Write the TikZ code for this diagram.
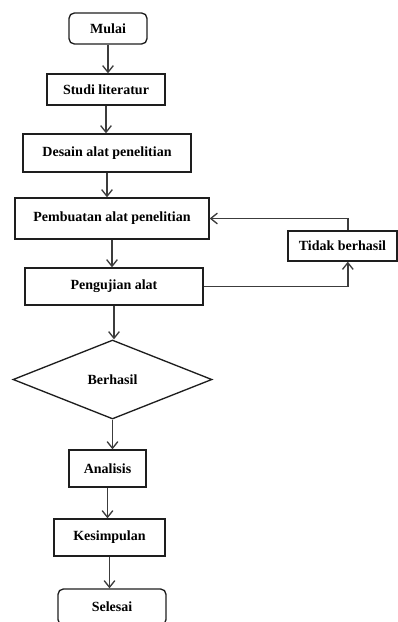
\documentclass[tikz,border=0pt]{standalone}
\usepackage{fontspec}
\setmainfont{Liberation Serif}
\usepackage{tikz}
\usetikzlibrary{arrows.meta}
\usetikzlibrary{shapes.geometric}
\usepackage{xcolor}
\definecolor{ColLine}{RGB}{60,60,60}
\definecolor{ColBox}{RGB}{30,30,30}
\tikzstyle{StepBox}=[rectangle,draw=ColBox,line width=1pt,inner sep=0pt,
font=\fontsize{10.5}{12}\selectfont\bfseries]
\tikzstyle{EndBox}=[StepBox,rounded corners=4pt]
\tikzstyle{Decision}=[diamond,draw=ColBox,line width=1pt,inner sep=0pt,
font=\fontsize{10.5}{12}\selectfont\bfseries]
\tikzstyle{Flow}=[ColLine,line width=1pt,-{Straight Barb[length=5pt,width=8pt]}]
\begin{document}
\begin{tikzpicture}[x=0.75pt,y=-0.75pt]
        \useasboundingbox(0,0)rectangle(398,622);
        \node[EndBox,minimum width=58.5pt,minimum height=23.25pt](mulai)at(108,28.5){Mulai};
        \node[StepBox,minimum width=88.5pt,minimum height=23.25pt](studi)at(106,89.5){Studi literatur};
        \node[StepBox,minimum width=126pt,minimum height=28.5pt](desain)at(107,153){Desain alat penelitian};
        \node[StepBox,minimum width=145.5pt,minimum height=30.75pt](buat)at(112,218.5){Pembuatan alat penelitian};
        \node[StepBox,minimum width=133.5pt,minimum height=27.75pt](uji)at(114,286.5){Pengujian alat};
        \node[StepBox,minimum width=81.75pt,minimum height=22.5pt](gagal)at(342.5,246){Tidak berhasil};
        \node[Decision,minimum width=149.25pt,minimum height=59.25pt](berhasil)at(112.5,379.5){Berhasil};
        \node[StepBox,minimum width=57.75pt,minimum height=27.75pt](analisis)at(107.5,468.5){Analisis};
        \node[StepBox,minimum width=83.25pt,minimum height=27.75pt](simpul)at(109.5,537.5){Kesimpulan};
        \node[EndBox,minimum width=81pt,minimum height=27pt](selesai)at(112,607){Selesai};
        \draw[Flow](mulai)--(mulai|-studi.north);
        \draw[Flow](studi)--(studi|-desain.north);
        \draw[Flow](desain)--(desain|-buat.north);
        \draw[Flow](buat)--(buat|-uji.north);
        \draw[Flow](uji)--(uji|-berhasil.north);
        \draw[Flow](berhasil)--(berhasil|-analisis.north);
        \draw[Flow](analisis)--(analisis|-simpul.north);
        \draw[Flow](simpul)--(simpul|-selesai.north);
        \draw[Flow](uji.east)-|([xshift=4pt]gagal.south);
        \draw[Flow]([xshift=4pt]gagal.north)|-(buat.east);
    \end{tikzpicture}
\end{document}
